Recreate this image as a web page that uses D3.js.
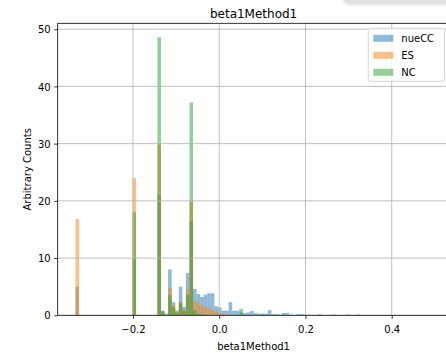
<!DOCTYPE html>
<html>
<head>
<meta charset="utf-8">
<script src="https://cdn.jsdelivr.net/npm/d3@7"></script>
<style>
  body { margin: 0; background: #fff; }
  text { font-family: "DejaVu Sans", sans-serif; fill: #000; }
</style>
</head>
<body>
<svg id="chart" width="446" height="353"></svg>
<script>
// Histogram binning: 100 equal bins starting at the smallest value
const binStart = -0.3333;
const binWidth = 0.00826;
const binCount = 100;

// Weighted counts per bin, given as [bin index, count]
const nueCC = [
  [0, 5.0], [16, 10.0], [23, 21.0], [24, 0.7], [25, 0.3], [26, 8.0], [27, 2.3],
  [28, 0.8], [29, 5.0], [30, 1.5], [31, 7.4], [32, 16.4], [33, 4.6], [34, 3.7],
  [35, 3.2], [36, 3.6], [37, 3.85], [38, 3.85], [39, 1.6], [40, 1.4], [41, 0.8],
  [42, 0.8], [43, 2.3], [44, 0.8], [45, 0.8], [46, 0.5], [47, 0.4], [48, 0.5],
  [49, 0.75], [50, 0.4], [51, 0.3], [52, 0.3], [53, 0.3], [54, 0.9], [55, 0.2],
  [56, 0.2], [57, 0.1], [58, 0.4], [59, 0.4], [60, 0.1], [62, 0.2], [63, 0.2],
  [65, 0.1], [68, 0.2], [72, 0.15], [76, 0.15], [79, 0.15]
];
const ES = [
  [0, 16.8], [16, 24.0], [23, 29.8], [24, 0.5], [26, 4.7], [27, 1.8], [28, 0.6],
  [29, 2.4], [30, 1.0], [31, 4.6], [32, 19.9], [33, 2.5], [34, 2.3], [35, 1.8],
  [36, 1.5], [37, 1.3], [38, 1.0], [39, 0.7], [40, 0.4], [41, 0.3], [42, 0.2],
  [43, 0.1]
];
const NC = [
  [16, 18.0], [23, 48.6], [24, 0.8], [26, 3.5], [27, 1.4], [28, 0.4], [29, 2.1],
  [30, 0.7], [31, 3.6], [32, 37.2], [33, 0.8], [34, 0.3], [35, 0.2], [36, 0.1],
  [46, 1.1]
];

const seriesNames = ["nueCC", "ES", "NC"];
const seriesColors = ["#1f77b4", "#ff7f0e", "#2ca02c"];
const xTicks = [-0.2, 0.0, 0.2, 0.4];
const yTicks = [0, 10, 20, 30, 40, 50];

const W = 446, H = 353;
const margin = { left: 57.7, top: 23.3, right: 449.5, bottom: 315.3 };

const svg = d3.select("#chart");

// x limits follow the 5% padding around the binned range
const lo = binStart, hi = binStart + binCount * binWidth;
const pad = 0.05 * (hi - lo);
const x = d3.scaleLinear().domain([lo - pad, hi + pad]).range([margin.left, margin.right]);
const yMax = d3.max([nueCC, ES, NC].flat(), d => d[1]) * 1.05;
const y = d3.scaleLinear().domain([0, yMax]).range([margin.bottom, margin.top]);

svg.append("defs").append("clipPath").attr("id", "plotClip")
  .append("rect")
  .attr("x", margin.left).attr("y", margin.top)
  .attr("width", margin.right - margin.left).attr("height", margin.bottom - margin.top);

// bars, drawn series by series with half transparency
const barsG = svg.append("g").attr("clip-path", "url(#plotClip)");
[nueCC, ES, NC].forEach((data, i) => {
  barsG.append("g")
    .attr("fill", seriesColors[i]).attr("fill-opacity", 0.5)
    .selectAll("rect").data(data).join("rect")
    .attr("x", d => x(binStart + d[0] * binWidth))
    .attr("width", d => x(binStart + (d[0] + 1) * binWidth) - x(binStart + d[0] * binWidth))
    .attr("y", d => y(d[1]))
    .attr("height", d => y(0) - y(d[1]));
});

// grid lines sit above the bars
const gridG = svg.append("g").attr("stroke", "#b0b0b0").attr("stroke-width", 0.8)
  .attr("clip-path", "url(#plotClip)");
gridG.selectAll("line.gx").data(xTicks).join("line").attr("class", "gx")
  .attr("x1", d => x(d)).attr("x2", d => x(d))
  .attr("y1", margin.top).attr("y2", margin.bottom);
gridG.selectAll("line.gy").data(yTicks).join("line").attr("class", "gy")
  .attr("x1", margin.left).attr("x2", margin.right)
  .attr("y1", d => y(d)).attr("y2", d => y(d));

// axes
const fmtX = d => (d < 0 ? "\u2212" : "") + Math.abs(d).toFixed(1);
const xAxis = d3.axisBottom(x).tickValues(xTicks).tickFormat(fmtX)
  .tickSizeInner(3.5).tickSizeOuter(0).tickPadding(3.5);
const yAxis = d3.axisLeft(y).tickValues(yTicks).tickFormat(d3.format("d"))
  .tickSizeInner(3.5).tickSizeOuter(0).tickPadding(3.5);

const gx = svg.append("g").attr("transform", `translate(0,${margin.bottom})`).call(xAxis);
const gy = svg.append("g").attr("transform", `translate(${margin.left},0)`).call(yAxis);
[gx, gy].forEach(g => {
  g.select(".domain").remove();
  g.selectAll(".tick line").attr("stroke", "#000").attr("stroke-width", 0.8);
  g.selectAll(".tick text").attr("font-size", 10).attr("font-family", "DejaVu Sans").attr("fill", "#000");
});
gx.selectAll(".tick text").attr("dy", null).attr("y", 17.8);
gy.selectAll(".tick text").attr("dy", "0.36em");

// spines (right one falls outside the window)
const spine = svg.append("g").attr("stroke", "#000").attr("stroke-width", 0.8).attr("fill", "none");
spine.append("rect")
  .attr("x", margin.left).attr("y", margin.top)
  .attr("width", margin.right - margin.left).attr("height", margin.bottom - margin.top);

// title and axis labels
svg.append("text").attr("x", (margin.left + margin.right) / 2).attr("y", 18.3)
  .attr("text-anchor", "middle").attr("font-size", 12).text("beta1Method1");
svg.append("text").attr("x", (margin.left + margin.right) / 2).attr("y", 350.3)
  .attr("text-anchor", "middle").attr("font-size", 10).text("beta1Method1");
svg.append("text").attr("transform", `translate(31,${(margin.top + margin.bottom) / 2}) rotate(-90)`)
  .attr("text-anchor", "middle").attr("font-size", 10).text("Arbitrary Counts");

// legend
const lg = svg.append("g").attr("transform", "translate(368.3,28.3)");
lg.append("rect").attr("width", 76.2).attr("height", 53).attr("rx", 2)
  .attr("fill", "#fff").attr("fill-opacity", 0.8).attr("stroke", "#cccccc").attr("stroke-width", 0.8);
seriesNames.forEach((name, i) => {
  const row = lg.append("g").attr("transform", `translate(0,${10 + i * 17})`);
  row.append("rect").attr("x", 5).attr("y", -3.5).attr("width", 20).attr("height", 7)
    .attr("fill", seriesColors[i]).attr("fill-opacity", 0.5);
  row.append("text").attr("x", 33).attr("y", 3.6).attr("font-size", 10).text(name);
});

// soft grey overlay along the top-right edge
const blur = svg.select("defs").append("filter").attr("id", "soft")
  .attr("x", "-20%").attr("y", "-100%").attr("width", "140%").attr("height", "300%");
blur.append("feGaussianBlur").attr("stdDeviation", 1.2);
svg.append("rect").attr("x", 343).attr("y", -12).attr("width", 130).attr("height", 17)
  .attr("rx", 6).attr("fill", "#e2e2e2").attr("filter", "url(#soft)");
</script>
</body>
</html>
